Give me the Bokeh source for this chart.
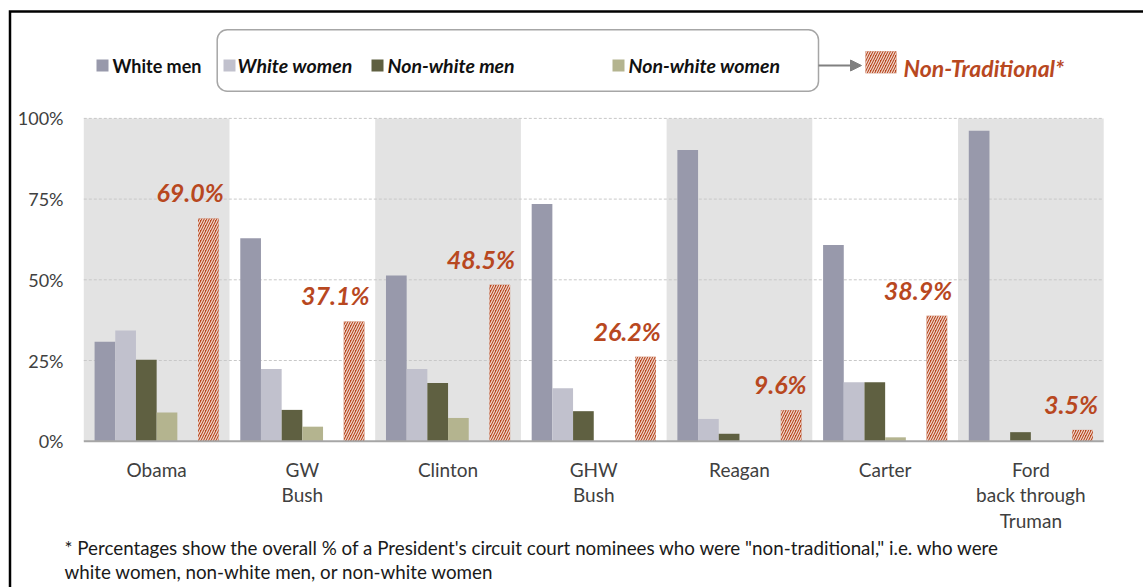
from bokeh.plotting import figure
from bokeh.models import Range1d, Arrow, NormalHead
from bokeh.core.properties import value
from bokeh.embed import file_html
from bokeh.resources import INLINE

# ---------------- data ----------------
categories = ["Obama", "GW\nBush", "Clinton", "GHW\nBush", "Reagan", "Carter",
              "Ford\nback through\nTruman"]
white_men = [30.8, 62.9, 51.3, 73.5, 90.2, 60.8, 96.2]
white_women = [34.3, 22.4, 22.4, 16.4, 6.9, 18.3, 0.0]
nonwhite_men = [25.2, 9.7, 18.0, 9.3, 2.3, 18.3, 2.8]
nonwhite_women = [8.9, 4.5, 7.2, 0.0, 0.0, 1.2, 0.0]
non_traditional = [69.0, 37.1, 48.5, 26.2, 9.6, 38.9, 3.5]

series_names = ["White men", "White women", "Non-white men", "Non-white women"]
nontrad_name = "Non-Traditional*"
tick_values = [0, 25, 50, 75, 100]
tick_labels = ["0%", "25%", "50%", "75%", "100%"]
footnote_lines = [
    "* Percentages show the overall % of a President's circuit court nominees who were \"non-traditional,\" i.e. who were",
    "white women, non-white men, or non-white women",
]

# ---------------- styles / layout ----------------
series_colors = ["#9899ab", "#c1c1cd", "#5f6041", "#b4b48f"]
RUST = "#b8481f"
FONT = "Lato"
W, H = 1143, 587
PAGE_OFF = 0
X0_PAGE, BAND_PX = 83.3, 145.7
Y0_PAGE, PCT_PX = 440.7, 3.228


def sx(px):
    return (px - X0_PAGE) / BAND_PX


def sy(py):
    return (Y0_PAGE - py) / PCT_PX


p = figure(width=W, height=H, output_backend="svg", toolbar_location=None,
           x_range=Range1d(sx(PAGE_OFF), sx(PAGE_OFF + W)),
           y_range=Range1d(sy(PAGE_OFF + H), sy(PAGE_OFF)),
           x_axis_location=None, y_axis_location=None, min_border=0,
           outline_line_color=None, background_fill_color="white",
           border_fill_color="white")
p.grid.visible = False

n = len(categories)
idx = list(range(n))

# alternating shaded bands
shade = [i for i in idx if i % 2 == 0]
p.quad(left=shade, right=[i + 1 for i in shade], bottom=0, top=tick_values[-1],
       fill_color="#e3e3e3", line_color=None)

# gridlines
grid_vals = tick_values[1:]
p.segment(x0=[0] * len(grid_vals), x1=[n] * len(grid_vals), y0=grid_vals, y1=grid_vals,
          line_color="#c8c8c8", line_width=1, line_dash="3 2")

# bars
BAR_W = 0.142
MARGIN = (1 - 6 * BAR_W) / 2
all_series = [white_men, white_women, nonwhite_men, nonwhite_women]
for k, (vals, col) in enumerate(zip(all_series, series_colors)):
    xs = [i + MARGIN + BAR_W * (k + 0.5) for i in idx]
    p.vbar(x=xs, top=vals, bottom=0, width=BAR_W, fill_color=col, line_color=None)

HATCH = dict(hatch_pattern="/", hatch_color="white", hatch_alpha=0.8,
             hatch_scale=5, hatch_weight=1.2)
nt_x = [i + MARGIN + BAR_W * 5.5 for i in idx]
p.vbar(x=nt_x, top=non_traditional, bottom=0, width=BAR_W, fill_color=RUST,
       line_color=None, **HATCH)

# baseline
p.segment(x0=[0], x1=[n], y0=[0], y1=[0], line_color="#a6a6a6", line_width=2)

# data labels
p.text(x=[x + BAR_W / 2 for x in nt_x], y=non_traditional,
       text=[f"{v:.1f}%" for v in non_traditional],
       text_align="right", text_baseline="middle", x_offset=5, y_offset=-26,
       text_font=value(FONT), text_font_style="bold italic", text_font_size="25px",
       text_color=RUST)

# y tick labels
p.text(x=[sx(63)] * len(tick_values), y=tick_values, text=tick_labels,
       text_align="right", text_baseline="middle", text_font=value(FONT),
       text_font_size="18px", text_color="#404040")

# category labels
p.text(x=[i + 0.5 for i in idx], y=[sy(457)] * n, text=categories,
       text_align="center", text_baseline="top", text_line_height=1.12,
       text_font=value(FONT), text_font_size="19px", text_color="#404040")

# footnote
p.text(x=[sx(64)] * len(footnote_lines), y=[sy(547), sy(571)], text=footnote_lines,
       text_align="left", text_baseline="middle", text_font=value(FONT),
       text_font_size="18.8px", text_color="#1a1a1a")

# ---------------- legend ----------------
box_kw = dict(left=sx(216.7), right=sx(818), top=sy(29.3), bottom=sy(90.7),
              fill_color="white", line_color="#a6a6a6", line_width=1.5)
try:
    p.quad(border_radius=10, **box_kw)
except Exception:
    p.quad(**box_kw)

LEG_Y = sy(65)
sq_px = [102, 229, 377, 618]
txt_px = [112, 237, 387, 628]
p.scatter(x=[sx(v) for v in sq_px], y=[LEG_Y] * 4, marker="square", size=12,
          fill_color=series_colors, line_color=None)
p.text(x=[sx(txt_px[0])], y=[LEG_Y], text=[series_names[0]], text_align="left",
       text_baseline="middle", text_font=value(FONT), text_font_style="bold",
       text_font_size="18px", text_color="#111111")
p.text(x=[sx(v) for v in txt_px[1:]], y=[LEG_Y] * 3, text=series_names[1:],
       text_align="left", text_baseline="middle", text_font=value(FONT),
       text_font_style="bold italic", text_font_size="19.5px", text_color="#111111")

p.add_layout(Arrow(end=NormalHead(size=11, fill_color="#808080", line_color="#808080"),
                   x_start=sx(818), y_start=LEG_Y, x_end=sx(861), y_end=LEG_Y,
                   line_color="#808080", line_width=2))

p.quad(left=sx(865), right=sx(896), top=sy(50.7), bottom=sy(72.7), fill_color=RUST,
       line_color=None, **HATCH)
p.text(x=[sx(903)], y=[sy(67)], text=[nontrad_name], text_align="left",
       text_baseline="middle", text_font=value(FONT), text_font_style="bold italic",
       text_font_size="23px", text_color=RUST)

# outer frame lines (left and top)
p.line(x=[sx(9.5), sx(9.5), sx(1160)], y=[sy(600), sy(11), sy(11)],
       line_color="black", line_width=2.5, line_join="miter")

open("out.html", "w").write(file_html(p, INLINE))
